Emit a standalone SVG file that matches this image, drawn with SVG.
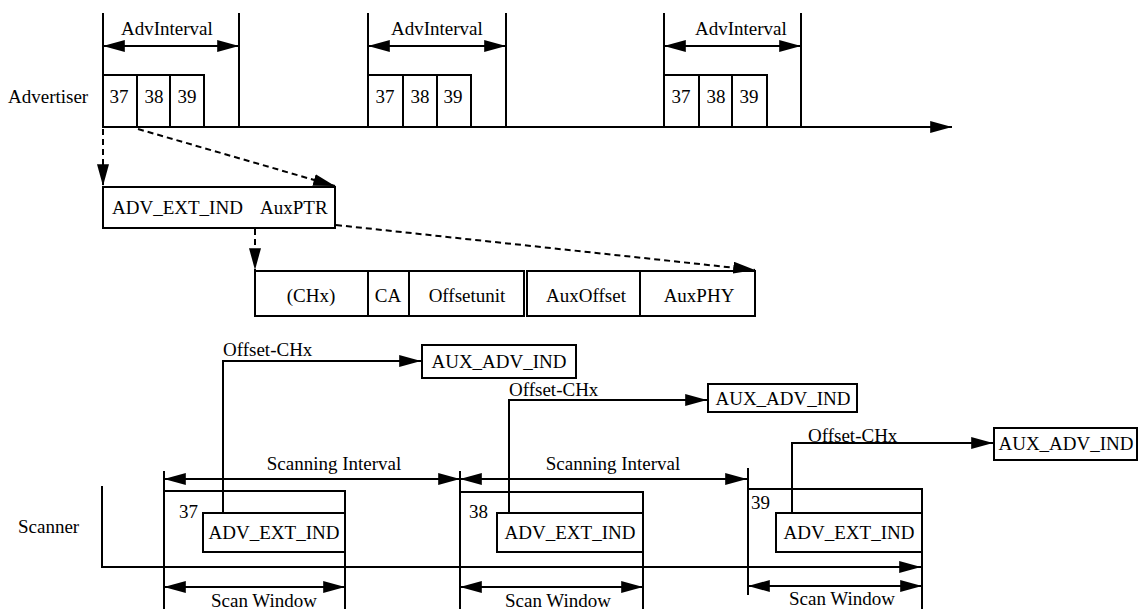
<svg xmlns="http://www.w3.org/2000/svg" width="1140" height="609" viewBox="0 0 1140 609">
<defs>
<marker id="ah" markerUnits="userSpaceOnUse" markerWidth="22" markerHeight="12" refX="20" refY="5.5" orient="auto-start-reverse" viewBox="0 0 20 11">
<path d="M0,0 L20,5.5 L0,11 z" fill="#000"/>
</marker>
<style>
.ln{stroke:#000;stroke-width:2;fill:none}
.ds{stroke:#000;stroke-width:2;fill:none;stroke-dasharray:6 4}
.bx{stroke:#000;stroke-width:2;fill:#fff}
.bo{stroke:#000;stroke-width:2;fill:none}
text{font-family:"Liberation Serif","Times New Roman",serif;font-size:19px;fill:#000}
.m{text-anchor:middle}
</style>
</defs>
<rect width="1140" height="609" fill="#fff"/>

<g id="advertiser">
<text x="8" y="103">Advertiser</text>
<line class="ln" x1="103" y1="127" x2="952" y2="127" marker-end="url(#ah)"/>
</g>

<g id="adv-block-1">
<line class="ln" x1="103" y1="13" x2="103" y2="127"/>
<line class="ln" x1="239" y1="13" x2="239" y2="127"/>
<line class="ln" x1="103" y1="46" x2="239" y2="46" marker-start="url(#ah)" marker-end="url(#ah)"/>
<text x="121" y="35">AdvInterval</text>
<rect class="bo" x="103" y="75" width="34" height="52"/>
<rect class="bo" x="137" y="75" width="33" height="52"/>
<rect class="bo" x="170" y="75" width="34" height="52"/>
<text class="m" x="119" y="103">37</text>
<text class="m" x="154" y="103">38</text>
<text class="m" x="187" y="103">39</text>
</g>

<g id="adv-block-2">
<line class="ln" x1="368" y1="13" x2="368" y2="127"/>
<line class="ln" x1="506" y1="13" x2="506" y2="127"/>
<line class="ln" x1="368" y1="46" x2="506" y2="46" marker-start="url(#ah)" marker-end="url(#ah)"/>
<text x="391" y="35">AdvInterval</text>
<rect class="bo" x="368" y="75" width="35" height="52"/>
<rect class="bo" x="403" y="75" width="34" height="52"/>
<rect class="bo" x="437" y="75" width="34" height="52"/>
<text class="m" x="385" y="103">37</text>
<text class="m" x="420" y="103">38</text>
<text class="m" x="453" y="103">39</text>
</g>

<g id="adv-block-3">
<line class="ln" x1="664" y1="13" x2="664" y2="127"/>
<line class="ln" x1="801" y1="13" x2="801" y2="127"/>
<line class="ln" x1="664" y1="46" x2="801" y2="46" marker-start="url(#ah)" marker-end="url(#ah)"/>
<text x="695" y="35">AdvInterval</text>
<rect class="bo" x="664" y="75" width="35" height="52"/>
<rect class="bo" x="699" y="75" width="33" height="52"/>
<rect class="bo" x="732" y="75" width="35" height="52"/>
<text class="m" x="681" y="103">37</text>
<text class="m" x="716" y="103">38</text>
<text class="m" x="749" y="103">39</text>
</g>

<g id="adv-ext-ind-pdu">
<rect class="bx" x="103" y="187" width="232" height="41"/>
<text x="112" y="214">ADV_EXT_IND</text>
<text x="260" y="214">AuxPTR</text>
</g>

<g id="auxptr-fields">
<rect class="bx" x="255" y="271" width="269" height="45"/>
<line class="ln" x1="368" y1="271" x2="368" y2="316"/>
<line class="ln" x1="409" y1="271" x2="409" y2="316"/>
<rect class="bx" x="527" y="271" width="228" height="45"/>
<line class="ln" x1="640" y1="271" x2="640" y2="316"/>
<text class="m" x="311" y="302">(CHx)</text>
<text class="m" x="388" y="302">CA</text>
<text class="m" x="467" y="302">Offsetunit</text>
<text class="m" x="586" y="302">AuxOffset</text>
<text class="m" x="699" y="302">AuxPHY</text>
</g>

<g id="scanner">
<text x="18" y="533">Scanner</text>
<polyline class="ln" points="102,486 102,567 921,567" marker-end="url(#ah)"/>
</g>

<g id="scan-1">
<line class="ln" x1="164" y1="471" x2="164" y2="609"/>
<path class="ln" d="M164,491 H345 V609"/>
<line class="ln" x1="164" y1="479" x2="460" y2="479" marker-start="url(#ah)" marker-end="url(#ah)"/>
<text class="m" x="334" y="470">Scanning Interval</text>
<text x="179" y="518">37</text>
<rect class="bx" x="203" y="513" width="142" height="39"/>
<text class="m" x="274" y="539">ADV_EXT_IND</text>
<line class="ln" x1="164" y1="587" x2="345" y2="587" marker-start="url(#ah)" marker-end="url(#ah)"/>
<text class="m" x="264" y="607">Scan Window</text>
</g>

<g id="scan-2">
<line class="ln" x1="460" y1="471" x2="460" y2="609"/>
<path class="ln" d="M460,492 H643 V609"/>
<line class="ln" x1="460" y1="479" x2="747" y2="479" marker-start="url(#ah)" marker-end="url(#ah)"/>
<text class="m" x="613" y="470">Scanning Interval</text>
<text x="469" y="518">38</text>
<rect class="bx" x="497" y="513" width="146" height="39"/>
<text class="m" x="570" y="539">ADV_EXT_IND</text>
<line class="ln" x1="460" y1="587" x2="643" y2="587" marker-start="url(#ah)" marker-end="url(#ah)"/>
<text class="m" x="558" y="607">Scan Window</text>
</g>

<g id="scan-3">
<line class="ln" x1="748" y1="468" x2="748" y2="595"/>
<path class="ln" d="M748,489 H922 V609"/>
<text x="751" y="509">39</text>
<rect class="bx" x="776" y="513" width="146" height="39"/>
<text class="m" x="849" y="539">ADV_EXT_IND</text>
<line class="ln" x1="748" y1="586" x2="922" y2="586" marker-start="url(#ah)" marker-end="url(#ah)"/>
<text class="m" x="842" y="605">Scan Window</text>
</g>

<g id="aux-adv-ind-1">
<rect class="bx" x="422" y="345" width="154" height="33"/>
<text class="m" x="499" y="368">AUX_ADV_IND</text>
</g>
<g id="aux-adv-ind-2">
<rect class="bx" x="708" y="384" width="149" height="28"/>
<text class="m" x="783" y="405">AUX_ADV_IND</text>
</g>
<g id="aux-adv-ind-3">
<rect class="bx" x="994" y="428" width="143" height="32"/>
<text class="m" x="1066" y="450">AUX_ADV_IND</text>
</g>

<g id="connectors">
<line class="ds" x1="103" y1="129" x2="103" y2="186" marker-end="url(#ah)"/>
<line class="ds" x1="138" y1="129" x2="335" y2="186" marker-end="url(#ah)"/>
<line class="ds" x1="255" y1="229" x2="255" y2="270" marker-end="url(#ah)"/>
<line class="ds" x1="336" y1="225" x2="755" y2="270" marker-end="url(#ah)"/>
<polyline class="ln" points="223,513 223,361 421,361" marker-end="url(#ah)"/>
<text x="223" y="356">Offset-CHx</text>
<polyline class="ln" points="509,513 509,400 707,400" marker-end="url(#ah)"/>
<text x="509" y="396">Offset-CHx</text>
<polyline class="ln" points="792,513 792,443 993,443" marker-end="url(#ah)"/>
<text x="808" y="442">Offset-CHx</text>
</g>
</svg>
